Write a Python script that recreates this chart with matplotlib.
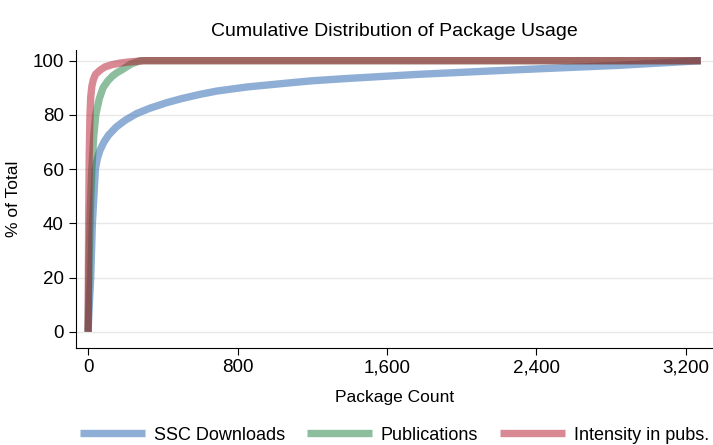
import matplotlib
matplotlib.use("Agg")
import matplotlib.pyplot as plt

plt.rcParams['font.family'] = ['Liberation Sans', 'DejaVu Sans']

# SSC Downloads
ssc_x = [0, 5, 14, 23, 39, 50, 64, 85, 109, 150, 198, 260, 332, 420, 500, 600,
         689, 850, 1045, 1200, 1402, 1777, 2311, 2846, 3280]
ssc_y = [0, 8, 20, 40, 60, 64, 67, 70, 72.5, 75.5, 78, 80.5, 82.5, 84.5, 86, 87.6,
         88.8, 90.3, 91.6, 92.6, 93.5, 95, 96.7, 98.3, 100]

# Publications
pub_x = [0, 5, 12, 20, 30, 41, 60, 80, 105, 130, 155, 180, 230, 280, 3280]
pub_y = [0, 25, 45, 60, 72, 80, 86, 90, 92.5, 94.3, 95.6, 96.6, 98.8, 100, 100]

# Intensity in pubs.
int_x = [0, 3, 6, 10, 14, 20, 28, 40, 64, 90, 127, 170, 214, 300, 3280]
int_y = [0, 40, 65, 80, 86.5, 90.5, 93, 95, 96.5, 97.7, 98.5, 99.1, 99.5, 100, 100]

x_ticks = [0, 800, 1600, 2400, 3200]
x_labels = ['0', '800', '1,600', '2,400', '3,200']
y_ticks = [0, 20, 40, 60, 80, 100]

fig = plt.figure(figsize=(7.13, 4.45), dpi=100)
ax = fig.add_axes([0.106, 0.219, 0.894, 0.669])

ax.plot(ssc_x, ssc_y, color='#1f5fad', alpha=0.5, lw=5.3, solid_capstyle='butt', label='SSC Downloads')
ax.plot(pub_x, pub_y, color='#1b7d3c', alpha=0.5, lw=5.3, solid_capstyle='butt', label='Publications')
ax.plot(int_x, int_y, color='#b5152a', alpha=0.5, lw=5.3, solid_capstyle='butt', label='Intensity in pubs.')

ax.set_xlim(-67, 3345)
ax.set_ylim(-5.8, 104)
ax.set_xticks(x_ticks)
ax.set_xticklabels(x_labels)
ax.set_yticks(y_ticks)
ax.tick_params(axis='both', labelsize=13.5, length=5, width=0.8, direction='out')
ax.yaxis.grid(True, color='#e8e8e8', lw=1)
ax.set_axisbelow(True)

for s in ['top', 'right']:
    ax.spines[s].set_visible(False)
for s in ['left', 'bottom']:
    ax.spines[s].set_linewidth(0.8)

ax.set_xlabel('Package Count', fontsize=12.5, labelpad=10)
ax.set_ylabel('% of Total', fontsize=12.5, labelpad=8)
ax.set_title('Cumulative Distribution of Package Usage', fontsize=14, pad=10)

fig.legend(loc='center', bbox_to_anchor=(0.553, 0.022), ncol=3, frameon=False,
           fontsize=13, handlelength=3.6, columnspacing=1.2, handletextpad=0.5)

fig.savefig('out.png', dpi=100)
